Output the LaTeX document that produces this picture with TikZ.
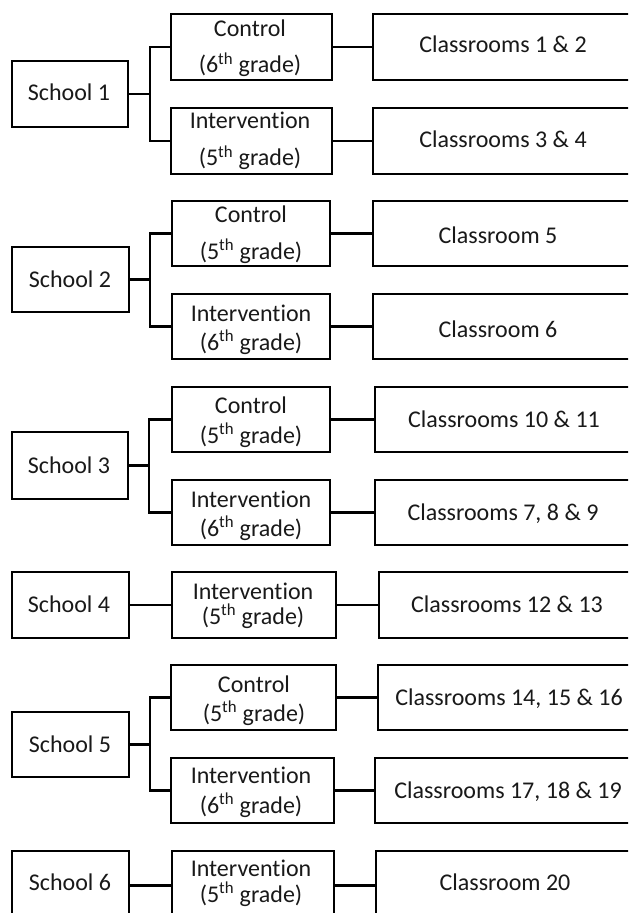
\documentclass[tikz,border=0pt]{standalone}
\usepackage{fontspec}
\setmainfont{Carlito}[Ligatures={NoCommon}]
\usetikzlibrary{fit}
\tikzset{
  box/.style={draw=black, line width=2pt, inner sep=0pt, fill=white},
  conn/.style={draw=black, line width=1.8pt},
  lbl/.style={inner sep=0pt, anchor=base, font=\fontsize{18}{21.6}\selectfont, text=black!90}
}
\newcommand{\gr}[1]{(#1\textsuperscript{th} grade)}
\begin{document}
\begin{tikzpicture}[x=0.75pt,y=-0.75pt]
\useasboundingbox (0,0) rectangle (628,913);
\clip (0,0) rectangle (628,913);
\fill[white] (0,0) rectangle (628,913);

% ---------- boxes ----------
% group 1
\node[box, fit={(12,61) (128,127)}] (s1) {};
\node[box, fit={(171,14) (332,80)}] (c1) {};
\node[box, fit={(171,108) (332,174)}] (i1) {};
\node[box, fit={(373,14) (645,80)}] (r1) {};
\node[box, fit={(373,108) (645,174)}] (r2) {};
\coordinate (b1) at (150,94);
% group 2
\node[box, fit={(12,247) (129,312)}] (s2) {};
\node[box, fit={(172,201) (330,266)}] (c2) {};
\node[box, fit={(172,294) (330,359)}] (i2) {};
\node[box, fit={(373,201) (645,266)}] (r3) {};
\node[box, fit={(373,294) (645,359)}] (r4) {};
\coordinate (b2) at (150,279.5);
% group 3
\node[box, fit={(12,432) (128,499)}] (s3) {};
\node[box, fit={(172,387) (330,452)}] (c3) {};
\node[box, fit={(172,480) (330,545)}] (i3) {};
\node[box, fit={(375,387) (645,452)}] (r5) {};
\node[box, fit={(375,480) (645,545)}] (r6) {};
\coordinate (b3) at (149,465.5);
% group 4
\node[box, fit={(12,572) (129,638)}] (s4) {};
\node[box, fit={(172,572) (336,638)}] (i4) {};
\node[box, fit={(379,572) (645,638)}] (r7) {};
% group 5
\node[box, fit={(12,712) (129,777)}] (s5) {};
\node[box, fit={(171,665) (336,730)}] (c5) {};
\node[box, fit={(171,758) (334,823)}] (i5) {};
\node[box, fit={(378,665) (645,730)}] (r8) {};
\node[box, fit={(375,758) (645,823)}] (r9) {};
\coordinate (b5) at (150,744.5);
% group 6
\node[box, fit={(12,851) (129,920)}] (s6) {};
\node[box, fit={(172,851) (334,920)}] (i6) {};
\node[box, fit={(376,851) (645,920)}] (r10) {};

% ---------- connectors ----------
\draw[conn] (s1.east) -- (s1.east -| b1);
\draw[conn] (c1.west) -| (b1) |- (i1.west);
\draw[conn] (c1.east) -- (r1.west);
\draw[conn] (i1.east) -- (r2.west);

\draw[conn] (s2.east) -- (s2.east -| b2);
\draw[conn] (c2.west) -| (b2) |- (i2.west);
\draw[conn] (c2.east) -- (r3.west);
\draw[conn] (i2.east) -- (r4.west);

\draw[conn] (s3.east) -- (s3.east -| b3);
\draw[conn] (c3.west) -| (b3) |- (i3.west);
\draw[conn] (c3.east) -- (r5.west);
\draw[conn] (i3.east) -- (r6.west);

\draw[conn] (s4.east) -- (i4.west);
\draw[conn] (i4.east) -- (r7.west);

\draw[conn] (s5.east) -- (s5.east -| b5);
\draw[conn] (c5.west) -| (b5) |- (i5.west);
\draw[conn] (c5.east) -- (r8.west);
\draw[conn] (i5.east) -- (r9.west);

\draw[conn] (s6.east) -- (i6.west);
\draw[conn] (i6.east) -- (r10.west);

% ---------- labels ----------
% group 1
\node[lbl] (ts1) at (69,101) {School 1};
\node[lbl] (tc1a) at (250,37) {Control};
\node[lbl] (tc1b) at (250,73) {\gr{6}};
\node[lbl] (ti1a) at (250,129) {Intervention};
\node[lbl] (ti1b) at (250,166) {\gr{5}};
\node[lbl] (tr1) at (503,53) {Classrooms 1 \& 2};
\node[lbl] (tr2) at (503,147) {Classrooms 3 \& 4};
% group 2
\node[lbl] (ts2) at (70,287) {School 2};
\node[lbl] (tc2a) at (251,222) {Control};
\node[lbl] (tc2b) at (251,259) {\gr{5}};
\node[lbl] (ti2a) at (251,321) {Intervention};
\node[lbl] (ti2b) at (251,350) {\gr{6}};
\node[lbl] (tr3) at (498,243) {Classroom 5};
\node[lbl] (tr4) at (498,337) {Classroom 6};
% group 3
\node[lbl] (ts3) at (69,473) {School 3};
\node[lbl] (tc3a) at (251,413) {Control};
\node[lbl] (tc3b) at (251,443) {\gr{5}};
\node[lbl] (ti3a) at (251,507) {Intervention};
\node[lbl] (ti3b) at (251,536) {\gr{6}};
\node[lbl] (tr5) at (504,427) {Classrooms 10 \& 11};
\node[lbl] (tr6) at (503,520) {Classrooms 7, 8 \& 9};
% group 4
\node[lbl] (ts4) at (69,612) {School 4};
\node[lbl] (ti4a) at (253,599) {Intervention};
\node[lbl] (ti4b) at (253,624) {\gr{5}};
\node[lbl] (tr7) at (507,612) {Classrooms 12 \& 13};
% group 5
\node[lbl] (ts5) at (70,752) {School 5};
\node[lbl] (tc5a) at (254,692) {Control};
\node[lbl] (tc5b) at (254,721) {\gr{5}};
\node[lbl] (ti5a) at (251,783) {Intervention};
\node[lbl] (ti5b) at (251,813) {\gr{6}};
\node[lbl] (tr8) at (509,705) {Classrooms 14, 15 \& 16};
\node[lbl] (tr9) at (508,798) {Classrooms 17, 18 \& 19};
% group 6
\node[lbl] (ts6) at (70,890) {School 6};
\node[lbl] (ti6a) at (251,876) {Intervention};
\node[lbl] (ti6b) at (251,902) {\gr{5}};
\node[lbl] (tr10) at (505,890) {Classroom 20};
\end{tikzpicture}
\end{document}
